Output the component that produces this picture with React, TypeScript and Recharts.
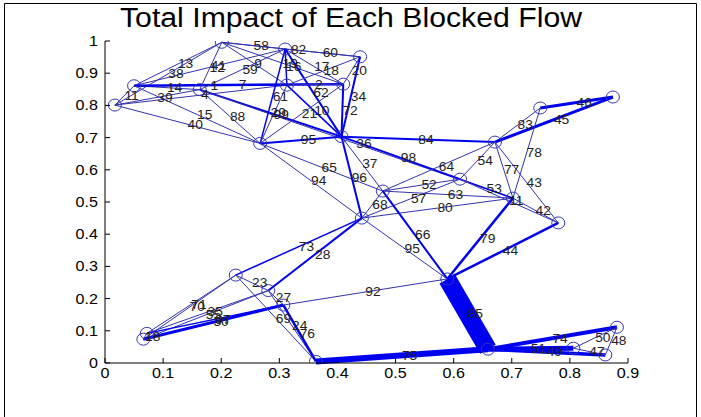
import React from 'react';
import { ComposedChart, XAxis, YAxis, ReferenceLine, Scatter } from 'recharts';

// Network nodes (position in the unit layout)
const nodeNames = [
  'C', 'B', 'E', 'D', 'F', 'G', 'I', 'H', 'J', 'K', 'L', 'M', 'N', 'O', 'P',
  'Q', 'R', 'S', 'T', 'U', 'V', 'W', 'X', 'Y', 'Z', 'AA', 'AB', 'AC', 'AD',
];
const nodeX = [
  0.017, 0.05, 0.163, 0.201, 0.31, 0.313, 0.41, 0.439, 0.267, 0.407, 0.671, 0.749, 0.874, 0.611, 0.478,
  0.702, 0.78, 0.442, 0.589, 0.659, 0.363, 0.881, 0.861, 0.806, 0.225, 0.281, 0.307, 0.072, 0.066,
];
const nodeY = [
  0.801, 0.861, 0.849, 0.996, 0.975, 0.863, 0.866, 0.951, 0.682, 0.703, 0.686, 0.792, 0.826, 0.571, 0.534,
  0.512, 0.435, 0.45, 0.261, 0.043, 0.005, 0.111, 0.025, 0.046, 0.273, 0.225, 0.18, 0.092, 0.074,
];

// Links between nodes, the flow id shown on each link and its total impact
const edgeFrom = [
  'C', 'C', 'C', 'C', 'C', 'B', 'B', 'B', 'B', 'B', 'B', 'E', 'E', 'E', 'E', 'E',
  'D', 'D', 'D', 'D', 'F', 'F', 'F', 'F', 'F', 'G', 'G', 'G', 'G', 'H', 'H', 'I', 'I',
  'J', 'J', 'J', 'K', 'K', 'K', 'K', 'L', 'L', 'M', 'M', 'L', 'L', 'L', 'P', 'P', 'P',
  'P', 'S', 'S', 'O', 'O', 'Q', 'P', 'S', 'Q', 'R', 'T', 'S', 'S', 'Z', 'AA', 'Z',
  'Z', 'AC', 'AD', 'AD', 'AC', 'AC', 'Z', 'AA', 'AB', 'AB', 'V', 'U', 'U', 'U', 'Y',
  'W', 'Y',
];
const edgeTo = [
  'B', 'D', 'E', 'G', 'J', 'D', 'E', 'F', 'G', 'I', 'J', 'D', 'F', 'J', 'K', 'Q',
  'F', 'G', 'H', 'I', 'G', 'H', 'I', 'J', 'K', 'H', 'I', 'J', 'K', 'I', 'K', 'K', 'J',
  'K', 'P', 'S', 'L', 'O', 'P', 'S', 'M', 'N', 'N', 'Q', 'Q', 'R', 'O', 'L', 'O', 'Q',
  'S', 'O', 'Q', 'Q', 'R', 'R', 'T', 'T', 'T', 'T', 'U', 'Z', 'AA', 'AA', 'AB', 'AC',
  'AD', 'AA', 'AA', 'AB', 'AB', 'AD', 'V', 'V', 'V', 'T', 'U', 'W', 'Y', 'X', 'W',
  'X', 'X',
];
const edgeLabels = [
  '11', '38', '39', '4', '40', '13', '14', '12', '1', '7', '15', '41', '59', '88', '29', '36',
  '58', '9', '82', '19', '16', '60', '17', '61', '62', '18', '2', '99', '10', '20', '34', '72', '21',
  '95', '65', '94', '84', '98', '37', '96', '83', '45', '46', '78', '77', '43', '54', '64', '52', '63',
  '68', '57', '80', '53', '11', '42', '66', '95', '79', '44', '85', '73', '28', '23', '27', '71',
  '70', '35', '55', '30', '97', '18', '69', '24', '76', '92', '75', '74', '51', '49', '50',
  '48', '47',
];
const edgeImpact = [
  1, 1, 1, 1, 1, 1, 1, 1, 1, 2.5, 1, 1, 1, 1, 2, 1,
  1, 1, 1, 1, 1.5, 1, 1, 1.5, 2, 1, 1, 1, 1.5, 1, 2, 2, 1,
  2, 1, 1, 2, 2, 1, 2, 1, 3, 3, 1, 1, 1, 1, 1, 1, 1,
  1, 1, 1, 1.5, 1, 1, 2, 1, 2.5, 2.5, 18, 1.5, 2, 1, 1, 1,
  1, 1, 1, 3, 1.5, 1, 1, 1, 2.5, 1, 6, 4, 5, 3.5, 1,
  1, 1,
];

const xTicks = [0, 0.1, 0.2, 0.3, 0.4, 0.5, 0.6, 0.7, 0.8, 0.9];
const yTicks = [0, 0.1, 0.2, 0.3, 0.4, 0.5, 0.6, 0.7, 0.8, 0.9, 1];

const chartTitle = 'Total Impact of Each Blocked Flow';

const FONT = '"Liberation Sans", Arial, Helvetica, sans-serif';
const STRETCH = 1.15;

const nodes = nodeNames.map((name, i) => ({ name, x: nodeX[i], y: nodeY[i] }));
const nodeIndex: Record<string, number> = {};
nodeNames.forEach((n, i) => {
  nodeIndex[n] = i;
});

const edges = edgeFrom.map((from, i) => {
  const a = nodeIndex[from];
  const b = nodeIndex[edgeTo[i]];
  return {
    x1: nodeX[a],
    y1: nodeY[a],
    x2: nodeX[b],
    y2: nodeY[b],
    label: edgeLabels[i],
    impact: edgeImpact[i],
  };
});

const labelPoints = edges.map((e) => ({
  x: (e.x1 + e.x2) / 2,
  y: (e.y1 + e.y2) / 2,
  label: e.label,
}));

const fmt = (v: number) => {
  if (Math.abs(v) < 1e-9) return '0';
  if (Math.abs(v - 1) < 1e-9) return '1';
  return v.toFixed(1);
};

const XTick = (props: any) => {
  const { x, y, payload } = props;
  return (
    <g>
      <line x1={x} y1={y} x2={x} y2={y - 5} stroke="#000" strokeWidth={1} />
      <text
        transform={`translate(${x},${y + 15}) scale(${STRETCH},1)`}
        textAnchor="middle"
        fontSize={14}
        fontFamily={FONT}
        fill="#000"
      >
        {fmt(payload.value)}
      </text>
    </g>
  );
};

const YTick = (props: any) => {
  const { x, y, payload } = props;
  return (
    <g>
      <line x1={x} y1={y} x2={x + 5} y2={y} stroke="#000" strokeWidth={1} />
      <text
        transform={`translate(${x - 7},${y + 5}) scale(${STRETCH},1)`}
        textAnchor="end"
        fontSize={14}
        fontFamily={FONT}
        fill="#000"
      >
        {fmt(payload.value)}
      </text>
    </g>
  );
};

const NodeShape = (props: any) => {
  const { cx, cy } = props;
  return <ellipse cx={cx} cy={cy} rx={6.5} ry={6} fill="none" stroke="#3636b8" strokeWidth={1} />;
};

const LabelShape = (props: any) => {
  const { cx, cy, payload } = props;
  return (
    <text
      transform={`translate(${cx},${cy}) scale(${STRETCH},1)`}
      dy="0.36em"
      textAnchor="start"
      fontSize={12}
      fontFamily={FONT}
      fill="#222"
    >
      {payload.label}
    </text>
  );
};

export default function App() {
  return (
    <div
      style={{
        position: 'absolute',
        left: 0,
        top: 0,
        width: 701,
        height: 417,
        background: '#fff',
        overflow: 'hidden',
      }}
    >
      <ComposedChart width={701} height={417} margin={{ top: 41, right: 73, bottom: 53, left: 104 }}>
        <XAxis
          type="number"
          dataKey="x"
          domain={[0, 0.9]}
          ticks={xTicks}
          height={1}
          tickSize={0}
          tickMargin={0}
          tickLine={false}
          tick={<XTick />}
          axisLine={{ stroke: '#000', strokeWidth: 1 }}
          allowDataOverflow
          interval={0}
        />
        <YAxis
          type="number"
          dataKey="y"
          domain={[0, 1]}
          ticks={yTicks}
          width={1}
          tickSize={0}
          tickMargin={0}
          tickLine={false}
          tick={<YTick />}
          axisLine={{ stroke: '#000', strokeWidth: 1 }}
          allowDataOverflow
          interval={0}
        />
        {edges.map((e, i) => (
          <ReferenceLine
            key={`edge-${i}`}
            segment={[
              { x: e.x1, y: e.y1 },
              { x: e.x2, y: e.y2 },
            ]}
            stroke={e.impact > 1 ? '#0000f0' : '#3333b0'}
            strokeWidth={e.impact}
            ifOverflow="visible"
          />
        ))}
        <Scatter data={nodes} shape={<NodeShape />} isAnimationActive={false} />
        <Scatter data={labelPoints} shape={<LabelShape />} isAnimationActive={false} />
      </ComposedChart>
      <svg
        width={701}
        height={417}
        style={{ position: 'absolute', left: 0, top: 0, pointerEvents: 'none' }}
      >
        <path d="M4.5,417 L4.5,3.5 L696.5,3.5 L696.5,417" fill="none" stroke="#000" strokeWidth={1} />
        <text
          transform={`translate(351,27) scale(1.12,1)`}
          textAnchor="middle"
          fontSize={27}
          fontFamily={FONT}
          fill="#000"
        >
          {chartTitle}
        </text>
      </svg>
    </div>
  );
}
